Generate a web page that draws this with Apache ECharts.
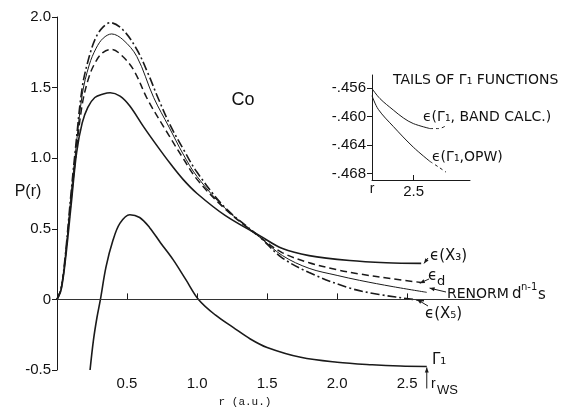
<!DOCTYPE html>
<html>
<head>
<meta charset="utf-8">
<style>
html, body { margin: 0; padding: 0; background: #fff; }
#chart { width: 577px; height: 411px; }
</style>
<script src="https://cdn.jsdelivr.net/npm/echarts@6/dist/echarts.min.js"></script>
</head>
<body>
<div id="chart"></div>
<script>
// main panel: P(r) for Co, r in a.u.
var rX3 = [0, 0.03, 0.06, 0.1, 0.14, 0.18, 0.22, 0.27, 0.33, 0.38, 0.45, 0.52, 0.62, 0.72, 0.81, 0.9, 1.0, 1.2, 1.45, 1.61, 1.8, 2.09, 2.35, 2.6];
var pX3 = [0, 0.07, 0.28, 0.66, 1.04, 1.25, 1.36, 1.43, 1.455, 1.464, 1.44, 1.37, 1.22, 1.08, 0.96, 0.85, 0.75, 0.595, 0.45, 0.36, 0.31, 0.275, 0.26, 0.255];

var rEd = [0, 0.03, 0.06, 0.1, 0.13, 0.18, 0.23, 0.28, 0.33, 0.39, 0.47, 0.55, 0.65, 0.8, 0.9, 1.0, 1.2, 1.45, 1.61, 1.8, 2.0, 2.16, 2.4, 2.6];
var pEd = [0, 0.08, 0.3, 0.7, 0.98, 1.38, 1.58, 1.69, 1.75, 1.77, 1.72, 1.62, 1.41, 1.16, 1.0, 0.85, 0.64, 0.44, 0.33, 0.26, 0.21, 0.18, 0.145, 0.12];

var rRen = [0, 0.03, 0.06, 0.1, 0.13, 0.18, 0.23, 0.28, 0.33, 0.39, 0.47, 0.57, 0.69, 0.8, 0.9, 1.0, 1.2, 1.45, 1.61, 1.8, 2.0, 2.16, 2.4, 2.64];
var pRen = [0, 0.08, 0.31, 0.73, 1.02, 1.45, 1.66, 1.78, 1.85, 1.88, 1.84, 1.72, 1.43, 1.22, 1.03, 0.87, 0.645, 0.44, 0.31, 0.22, 0.17, 0.135, 0.09, 0.05];

var rX5 = [0, 0.03, 0.06, 0.1, 0.13, 0.18, 0.23, 0.28, 0.33, 0.38, 0.47, 0.57, 0.65, 0.72, 0.81, 0.91, 1.0, 1.2, 1.45, 1.6, 1.8, 2.09, 2.3, 2.54, 2.62];
var pX5 = [0, 0.08, 0.32, 0.75, 1.05, 1.5, 1.72, 1.86, 1.93, 1.96, 1.91, 1.77, 1.60, 1.43, 1.23, 1.05, 0.90, 0.65, 0.44, 0.30, 0.19, 0.08, 0.035, 0.0, -0.01];

var rG1 = [0.236, 0.26, 0.285, 0.31, 0.35, 0.4, 0.45, 0.52, 0.59, 0.66, 0.74, 0.83, 0.92, 1.01, 1.13, 1.26, 1.38, 1.5, 1.74, 2.0, 2.25, 2.45, 2.64];
var pG1 = [-0.5, -0.29, -0.13, 0.0, 0.23, 0.42, 0.54, 0.60, 0.58, 0.51, 0.40, 0.28, 0.14, 0.0, -0.11, -0.20, -0.28, -0.34, -0.41, -0.445, -0.463, -0.472, -0.475];

var xTicks = [0.5, 1.0, 1.5, 2.0, 2.5];
var yTicks = [-0.5, 0, 0.5, 1.0, 1.5, 2.0];
var rWS = 2.64;

// inset: tails of Gamma1 functions
var rBand = [2.3, 2.338, 2.402, 2.45, 2.498, 2.578];
var eBand = [-0.4561, -0.4575, -0.4591, -0.4602, -0.4610, -0.4617];
var rBandTail = [2.578, 2.62, 2.655];
var eBandTail = [-0.4617, -0.4617, -0.4613];
var rOpw = [2.3, 2.33, 2.402, 2.498, 2.578];
var eOpw = [-0.4571, -0.4590, -0.4614, -0.4643, -0.4663];
var rOpwTail = [2.578, 2.62, 2.655];
var eOpwTail = [-0.4663, -0.4671, -0.4678];
var insetYTicks = [-0.468, -0.464, -0.460, -0.456];
var insetXTicks = [2.5];

function zip(a, b) {
  var out = [];
  for (var i = 0; i < a.length; i++) out.push([a[i], b[i]]);
  return out;
}

var ink = '#1a1a1a';
var font = 'Liberation Sans, DejaVu Sans, sans-serif';
var lab = 'DejaVu Sans, sans-serif';

function curve(name, r, p, dash, width, xi) {
  return {
    name: name,
    type: 'line',
    xAxisIndex: xi || 0,
    yAxisIndex: xi || 0,
    data: zip(r, p),
    smooth: 0.35,
    symbol: 'none',
    silent: true,
    lineStyle: { color: ink, width: width, type: dash }
  };
}

var chart = echarts.init(document.getElementById('chart'));

var option = {
  animation: false,
  grid: [
    { left: 57, right: 97, top: 17, bottom: 41 },
    { left: 372, top: 75, width: 98, height: 105 }
  ],
  xAxis: [
    {
      type: 'value', gridIndex: 0, min: 0, max: 3.02,
      axisLine: { lineStyle: { color: ink, width: 1 } },
      axisTick: { inside: true, length: 6, customValues: xTicks, lineStyle: { color: ink } },
      axisLabel: {
        customValues: xTicks, margin: 6, color: '#111', fontFamily: font, fontSize: 15,
        formatter: function (v) { return v.toFixed(1); }
      },
      splitLine: { show: false }
    },
    {
      type: 'value', gridIndex: 1, min: 2.3, max: 2.77,
      axisLine: { lineStyle: { color: ink, width: 1 } },
      axisTick: { inside: true, length: 5, customValues: insetXTicks, lineStyle: { color: ink } },
      axisLabel: {
        customValues: insetXTicks, margin: 4, color: '#111', fontFamily: font, fontSize: 15,
        formatter: function (v) { return v.toFixed(1); }
      },
      splitLine: { show: false }
    }
  ],
  yAxis: [
    {
      type: 'value', gridIndex: 0, min: -0.5, max: 2.0,
      axisLine: { show: true, lineStyle: { color: ink, width: 1 } },
      axisTick: { show: true, length: 5, customValues: yTicks, lineStyle: { color: ink } },
      axisLabel: {
        customValues: yTicks, margin: 6, color: '#111', fontFamily: font, fontSize: 15,
        formatter: function (v) { return v === 0 ? '0' : v.toFixed(1); }
      },
      splitLine: { show: false }
    },
    {
      type: 'value', gridIndex: 1, min: -0.4689, max: -0.4542,
      axisLine: { show: true, lineStyle: { color: ink, width: 1 } },
      axisTick: { show: true, length: 5, customValues: insetYTicks, lineStyle: { color: ink } },
      axisLabel: {
        customValues: insetYTicks, margin: 6, color: '#111', fontFamily: font, fontSize: 15,
        formatter: function (v) { return '-.' + Math.round(-v * 1000); }
      },
      splitLine: { show: false }
    }
  ],
  series: [
    curve('X3', rX3, pX3, 'solid', 1.6),
    curve('ed', rEd, pEd, [7, 4], 1.5),
    curve('renorm', rRen, pRen, 'solid', 1),
    curve('X5', rX5, pX5, [9, 3, 2, 3], 1.6),
    Object.assign(curve('G1', rG1, pG1, 'solid', 1.6), {
      markLine: {
        silent: true, symbol: 'none', label: { show: false },
        lineStyle: { color: '#333', width: 1, type: 'solid' },
        data: [{ yAxis: 0 }]
      }
    }),
    curve('band', rBand, eBand, 'solid', 1, 1),
    curve('bandTail', rBandTail, eBandTail, [3, 3], 1, 1),
    curve('opw', rOpw, eOpw, 'solid', 1, 1),
    curve('opwTail', rOpwTail, eOpwTail, [3, 3], 1, 1)
  ]
};
chart.setOption(option);

function px(r, p) { return chart.convertToPixel({ gridIndex: 0 }, [r, p]); }
function txt(x, y, s, size, align, fam) {
  return {
    type: 'text', x: x, y: y, silent: true,
    style: { text: s, fill: '#111', font: (size || 14) + 'px ' + (fam || lab), align: align || 'left', verticalAlign: 'middle' }
  };
}
function arrow(x1, y1, tip) {
  var dx = tip[0] - x1, dy = tip[1] - y1, len = Math.sqrt(dx * dx + dy * dy);
  var ux = dx / len, uy = dy / len, s = 5;
  return [
    { type: 'line', silent: true, shape: { x1: x1, y1: y1, x2: tip[0], y2: tip[1] }, style: { stroke: ink, lineWidth: 1 } },
    { type: 'polygon', silent: true, shape: { points: [
      [tip[0], tip[1]],
      [tip[0] - ux * s - uy * 2, tip[1] - uy * s + ux * 2],
      [tip[0] - ux * s + uy * 2, tip[1] - uy * s - ux * 2]
    ] }, style: { fill: ink } }
  ];
}

var ws = px(rWS, pG1[pG1.length - 1]);
var g = [
  txt(28, 192, 'P(r)', 16, 'center', font),
  txt(243, 100, 'Co', 18, 'center', font),
  txt(245, 402, 'r (a.u.)', 11, 'center', 'Liberation Mono, DejaVu Sans Mono, monospace'),
  txt(393, 80, 'TAILS OF \u0393\u2081 FUNCTIONS', 14),
  txt(423, 117, '\u03f5(\u0393\u2081, BAND CALC.)', 14),
  txt(432, 157, '\u03f5(\u0393\u2081,OPW)', 14),
  txt(372, 189, 'r', 14, 'center', font),
  txt(430, 256, '\u03f5(X\u2083)', 15),
  txt(428, 276, '\u03f5', 15),
  txt(437, 282, 'd', 13),
  txt(447, 294, 'RENORM', 14),
  txt(512, 294, 'd', 15),
  txt(521, 287, 'n-1', 10),
  txt(538, 295, 's', 15),
  txt(425, 314, '\u03f5(X\u2085)', 15),
  txt(432, 360, '\u0393\u2081', 15),
  txt(431, 384, 'r', 14, 'left', font),
  txt(437, 390, 'WS', 13, 'left', font)
];
g = g.concat(arrow(428, 258, px(rX3[rX3.length - 1] + 0.02, pX3[pX3.length - 1])));
g = g.concat(arrow(429, 279, px(rEd[rEd.length - 1] - 0.01, pEd[pEd.length - 1] - 0.005)));
g = g.concat(arrow(446, 292, px(2.66, 0.08)));
g = g.concat(arrow(428, 306, px(rX5[rX5.length - 1] - 0.05, pX5[pX5.length - 1] + 0.01)));
g = g.concat(arrow(ws[0], ws[1] + 22, [ws[0], ws[1] + 1]));
chart.setOption({ graphic: g });
</script>
</body>
</html>
